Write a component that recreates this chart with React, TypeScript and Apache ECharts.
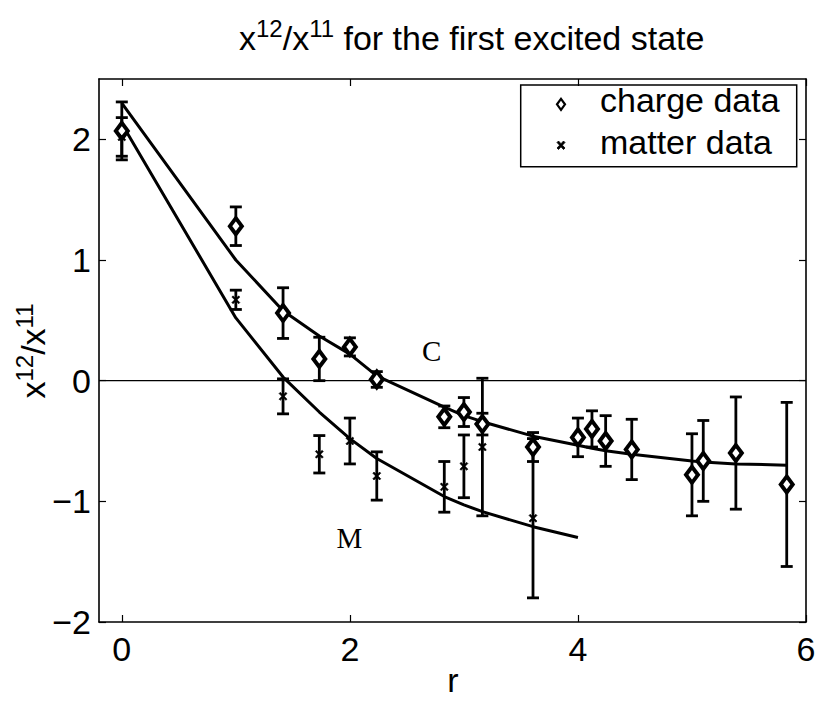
import React, { useEffect, useRef } from "react";
import * as echarts from "echarts";

// ---- data ----
const rCharge = [0, 1, 1.414, 1.732, 2, 2.236, 2.828, 3, 3.162, 3.606, 4, 4.123, 4.243, 4.472, 5, 5.099, 5.385, 5.831];
const chargeY = [2.07, 1.28, 0.56, 0.18, 0.28, 0.01, -0.3, -0.26, -0.36, -0.55, -0.47, -0.4, -0.5, -0.57, -0.78, -0.665, -0.6, -0.86];
const chargeErr = [0.24, 0.16, 0.21, 0.18, 0.075, 0.065, 0.09, 0.12, 0.09, 0.12, 0.16, 0.15, 0.21, 0.25, 0.34, 0.335, 0.465, 0.68];

const rMatter = [0, 1, 1.414, 1.732, 2, 2.236, 2.828, 3, 3.162, 3.606];
const matterY = [2.02, 0.67, -0.13, -0.61, -0.5, -0.79, -0.88, -0.71, -0.55, -1.14];
const matterErr = [0.16, 0.08, 0.145, 0.155, 0.19, 0.2, 0.21, 0.26, 0.57, 0.66];

const rCurveC = [0, 1, 1.414, 1.732, 2, 2.236, 2.828, 3, 3.162, 3.606, 4, 4.123, 4.243, 4.472, 5, 5.099, 5.385, 5.831];
const curveC = [2.3, 1.0, 0.58, 0.37, 0.22, 0.04, -0.22, -0.29, -0.34, -0.46, -0.535, -0.56, -0.58, -0.61, -0.665, -0.675, -0.69, -0.7];

const rCurveM = [0, 1, 1.414, 1.732, 2, 2.236, 2.828, 3, 3.162, 3.606, 4];
const curveM = [2.13, 0.52, 0.03, -0.26, -0.48, -0.645, -0.96, -1.03, -1.085, -1.21, -1.3];

const curveNames = ["C", "M"];
const curveLabelX = [2.717, 1.995];
const curveLabelY = [0.25, -1.303];

const X_TICKS = [0, 2, 4, 6];
const Y_TICKS = [-2, -1, 0, 1, 2];
const X_RANGE = [-0.2, 6];
const Y_RANGE = [-2, 2.5];

const legendNames = ["charge data", "matter data"];

const SANS = "'Liberation Sans', Arial, Helvetica, sans-serif";
const SERIF = "'Liberation Serif', 'Times New Roman', serif";

const fmt = (v: number) => (v < 0 ? "\u2212" + String(-v) : String(v));

const richSup = {
  b: { fontSize: 34, lineHeight: 38, verticalAlign: "bottom", fontFamily: SANS, fontWeight: "normal", color: "#000" },
  s: { fontSize: 24, lineHeight: 24, verticalAlign: "top", fontFamily: SANS, fontWeight: "normal", color: "#000" },
};

const xMarkPath =
  "path://M0,1.5 L1.5,0 L5,3.5 L8.5,0 L10,1.5 L6.5,5 L10,8.5 L8.5,10 L5,6.5 L1.5,10 L0,8.5 L3.5,5 Z";

function errorBarRender(params: any, api: any) {
  const x = api.value(0);
  const y = api.value(1);
  const e = api.value(2);
  const top = api.coord([x, y + e]);
  const bot = api.coord([x, y - e]);
  const hw = 6;
  const st = { stroke: "#000", lineWidth: 2.8 };
  return {
    type: "group",
    children: [
      { type: "line", shape: { x1: top[0], y1: top[1], x2: bot[0], y2: bot[1] }, style: st },
      { type: "line", shape: { x1: top[0] - hw, y1: top[1], x2: top[0] + hw, y2: top[1] }, style: st },
      { type: "line", shape: { x1: bot[0] - hw, y1: bot[1], x2: bot[0] + hw, y2: bot[1] }, style: st },
    ],
  };
}

function curveLabelRender(params: any, api: any) {
  const p = api.coord([api.value(0), api.value(1)]);
  return {
    type: "text",
    x: p[0],
    y: p[1],
    style: {
      text: curveNames[params.dataIndex],
      fill: "#000",
      fontFamily: SERIF,
      fontSize: 29,
      align: "center",
      verticalAlign: "middle",
    },
  };
}

export default function App() {
  const ref = useRef<HTMLDivElement>(null);
  useEffect(() => {
    if (!ref.current) return;
    const chart = echarts.init(ref.current, undefined, { renderer: "svg" });

    const axisCommon = {
      type: "value",
      splitLine: { show: false },
      axisLine: { show: true, onZero: false, lineStyle: { color: "#000", width: 1.6 } },
      axisTick: { show: true, inside: true, length: 7, lineStyle: { color: "#000", width: 1.2 } },
    };

    const option: any = {
      animation: false,
      backgroundColor: "#fff",
      title: {
        text: "{b|x}{s|12}{b|/x}{s|11}{b| for the first excited state}",
        left: 239,
        top: 16.5,
        padding: 0,
        textStyle: { fontWeight: "normal", fontFamily: SANS, rich: richSup },
      },
      grid: { left: 99, top: 79, width: 707, height: 543, containLabel: false },
      xAxis: [
        {
          ...axisCommon,
          position: "bottom",
          min: X_RANGE[0],
          max: X_RANGE[1],
          axisTick: { ...axisCommon.axisTick, customValues: X_TICKS },
          axisLabel: {
            customValues: X_TICKS,
            formatter: fmt,
            margin: 10,
            fontSize: 34,
            lineHeight: 34,
            fontFamily: SANS,
            color: "#000",
          },
        },
        {
          ...axisCommon,
          position: "top",
          min: X_RANGE[0],
          max: X_RANGE[1],
          axisTick: { ...axisCommon.axisTick, customValues: X_TICKS },
          axisLabel: { show: false },
        },
      ],
      yAxis: [
        {
          ...axisCommon,
          position: "left",
          min: Y_RANGE[0],
          max: Y_RANGE[1],
          axisTick: { ...axisCommon.axisTick, customValues: Y_TICKS },
          axisLabel: {
            customValues: Y_TICKS,
            formatter: fmt,
            margin: 8,
            fontSize: 34,
            fontFamily: SANS,
            color: "#000",
          },
        },
        {
          ...axisCommon,
          position: "right",
          min: Y_RANGE[0],
          max: Y_RANGE[1],
          axisTick: { ...axisCommon.axisTick, customValues: Y_TICKS },
          axisLabel: { show: false },
        },
      ],
      graphic: [
        {
          type: "text",
          x: 31.2,
          y: 351,
          rotation: Math.PI / 2,
          style: {
            text: "{b|x}{s|12}{b|/x}{s|11}",
            rich: richSup,
            align: "center",
            verticalAlign: "middle",
          },
        },
        {
          type: "text",
          x: 453,
          y: 680,
          style: {
            text: "r",
            fontSize: 34,
            fontFamily: SANS,
            fill: "#000",
            align: "center",
            verticalAlign: "middle",
          },
        },
        {
          type: "group",
          z: 100,
          children: [
            {
              type: "rect",
              shape: { x: 520.7, y: 85, width: 276, height: 81.7 },
              style: { fill: "#fff", stroke: "#000", lineWidth: 1.5 },
            },
            {
              type: "polygon",
              shape: { points: [[561, 98.8], [565, 104.3], [561, 109.8], [557, 104.3]] },
              style: { fill: "#fff", stroke: "#000", lineWidth: 2.2 },
            },
            {
              type: "polygon",
              shape: {
                points: [
                  [557, 142.5], [558.5, 141], [561, 143.7], [563.5, 141], [565, 142.5], [562.4, 145.2],
                  [565, 148], [563.5, 149.5], [561, 146.8], [558.5, 149.5], [557, 148], [559.6, 145.2],
                ],
              },
              style: { fill: "#000", stroke: "#000", lineWidth: 0.8 },
            },
            {
              type: "text",
              x: 600,
              y: 100,
              style: { text: legendNames[0], fontSize: 34, fontFamily: SANS, fill: "#000", verticalAlign: "middle" },
            },
            {
              type: "text",
              x: 600,
              y: 141.5,
              style: { text: legendNames[1], fontSize: 34, fontFamily: SANS, fill: "#000", verticalAlign: "middle" },
            },
          ],
        },
      ],
      series: [
        {
          type: "line",
          data: [
            [X_RANGE[0], 0],
            [X_RANGE[1], 0],
          ],
          symbol: "none",
          lineStyle: { color: "#000", width: 1.3 },
          z: 1,
        },
        {
          type: "custom",
          renderItem: errorBarRender,
          data: rCharge.map((r, i) => [r, chargeY[i], chargeErr[i]]),
          encode: { x: 0, y: 1 },
          z: 2,
        },
        {
          type: "custom",
          renderItem: errorBarRender,
          data: rMatter.map((r, i) => [r, matterY[i], matterErr[i]]),
          encode: { x: 0, y: 1 },
          z: 2,
        },
        {
          type: "line",
          data: rCurveC.map((r, i) => [r, curveC[i]]),
          symbol: "none",
          lineStyle: { color: "#000", width: 3 },
          z: 3,
        },
        {
          type: "line",
          data: rCurveM.map((r, i) => [r, curveM[i]]),
          symbol: "none",
          lineStyle: { color: "#000", width: 3 },
          z: 3,
        },
        {
          type: "scatter",
          name: legendNames[0],
          data: rCharge.map((r, i) => [r, chargeY[i]]),
          symbol: "diamond",
          symbolSize: [12, 16],
          itemStyle: { color: "#fff", borderColor: "#000", borderWidth: 4, opacity: 1 },
          z: 4,
        },
        {
          type: "scatter",
          name: legendNames[1],
          data: rMatter.map((r, i) => [r, matterY[i]]),
          symbol: xMarkPath,
          symbolSize: 8,
          itemStyle: { color: "#000", borderColor: "#000", borderWidth: 0.6, opacity: 1 },
          z: 5,
        },
        {
          type: "custom",
          renderItem: curveLabelRender,
          data: curveNames.map((n, i) => [curveLabelX[i], curveLabelY[i]]),
          encode: { x: 0, y: 1 },
          z: 6,
        },
      ],
    };
    chart.setOption(option);
    return () => chart.dispose();
  }, []);

  return (
    <div
      ref={ref}
      style={{ position: "fixed", left: 0, top: 0, width: 822, height: 703, background: "#fff" }}
    />
  );
}
